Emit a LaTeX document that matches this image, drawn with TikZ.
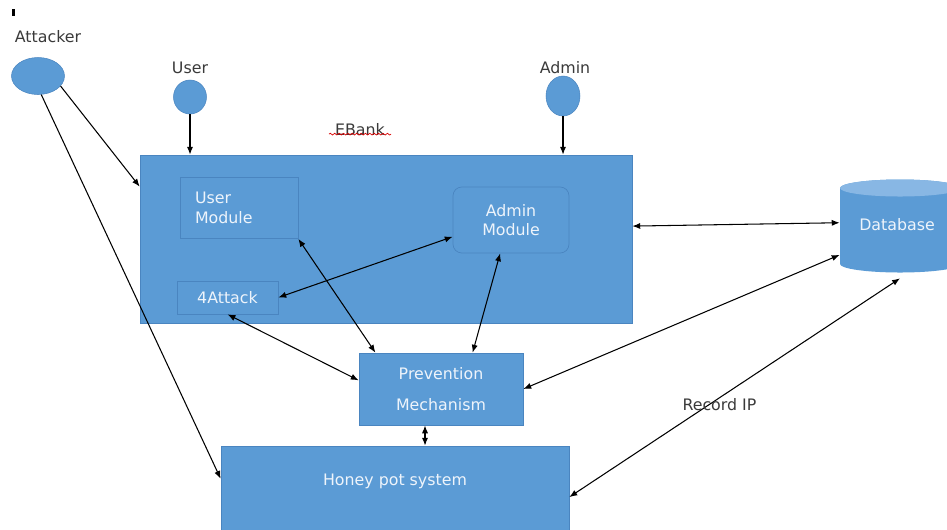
\documentclass[tikz,border=0pt]{standalone}
\usepackage{fontspec}
\setmainfont{DejaVu Sans}
\usetikzlibrary{shapes.geometric,arrows.meta,decorations.pathmorphing}
\definecolor{boxblue}{HTML}{5B9BD5}
\definecolor{edgeblue}{HTML}{4A85C0}
\definecolor{dbtop}{HTML}{88B7E4}
\definecolor{boxtext}{HTML}{EEF4FB}
\definecolor{graytext}{HTML}{3A3A3A}

\begin{document}
\begin{tikzpicture}[x=0.02cm, y=-0.02cm, font=\fontsize{9}{11}\selectfont]

        \useasboundingbox (0,0) rectangle (947,529);

        % actors
        \begin{scope}[every node/.style={ellipse, fill=boxblue, draw=edgeblue, line width=0.3pt, inner sep=0pt}]
          \node[minimum width=1.06cm, minimum height=0.74cm] (attacker) at (38,76)  {};
          \node[minimum width=0.66cm, minimum height=0.68cm] (user)     at (190,97) {};
          \node[minimum width=0.68cm, minimum height=0.80cm] (admin)    at (563,96) {};
        \end{scope}

        \begin{scope}[every node/.style={text=graytext}]
          \node (lattacker) at (48,37)  {Attacker};
          \node (luser)     at (190,68) {User};
          \node (ladmin)    at (565,68) {Admin};
          \node (lebank)    at (360,130) {EBank};
        \end{scope}
        \draw[red!85!black, line width=0.4pt, decorate,
              decoration={snake, amplitude=0.5pt, segment length=2.5pt}]
          ([yshift=1pt]lebank.base west) -- ([yshift=1pt]lebank.base east);
        \fill[black] (12,9) rectangle (15,16);

        % blocks
        \begin{scope}[every node/.style={rectangle, fill=boxblue, draw=edgeblue, line width=0.4pt, text=boxtext}]
          \node[minimum width=9.84cm, minimum height=3.36cm] (ebank) at (386,239) {};
          \node[minimum width=2.36cm, minimum height=1.12cm, text width=1.76cm,
                inner sep=0.3cm, align=left] (userm) at (239,208) {User\\Module};
          \node[minimum width=2.32cm, minimum height=1.32cm, rounded corners=5pt,
                align=center] (adminm) at (511,220) {Admin\\Module};
          \node[minimum width=2.02cm, minimum height=0.66cm] (attack) at (227.5,297.5) {4Attack};
          \node[minimum width=3.28cm, minimum height=1.44cm,
                align=center] (prev) at (441,389) {Prevention\\[6.5pt]Mechanism};
          \node[minimum width=6.96cm, minimum height=1.80cm] (honey) at (395,491) {};
        \end{scope}
        \node[text=boxtext] (lhoney) at (395,481) {Honey pot system};

        % database
        \fill[boxblue] (840,188) -- (840,264)
          arc[start angle=180, end angle=360, x radius=1.2cm, y radius=0.17cm]
          -- (960,188) arc[start angle=0, end angle=180, x radius=1.2cm, y radius=0.17cm] -- cycle;
        \fill[dbtop] (900,188) ellipse[x radius=1.2cm, y radius=0.17cm];
        \node[minimum width=2.4cm, minimum height=2cm, text=boxtext] (db) at (900,228) {};
        \node[text=boxtext] (ldb) at (897,225) {Database};

        % connections
        \begin{scope}[every path/.style={line width=0.6pt},
                      >={Latex[length=4.5pt,width=3.5pt]}]
          \path (attacker.-24)  edge[->] (ebank.168);
          \path (attacker.-80)  edge[->] (honey.176);
          \path (user.south)    edge[->] (user.south |- ebank.north);
          \path (admin.south)   edge[->] (admin.south |- ebank.north);
          \path (userm.south east) edge[<->] (prev.151);
          \path (attack.east)   edge[<->] (adminm.196);
          \path (adminm.252)    edge[<->] (prev.49);
          \path (attack.south)  edge[<->] (prev.174);
          \path (ebank.3)       edge[<->] (db.175);
          \path (prev.east)     edge[<->] (db.204);
          \path (honey.-2)      edge[<->] node[pos=0.454, yshift=-0.14cm, text=graytext] (lrecord) {Record IP} (db.south);
          \path ([xshift=-0.32cm]prev.south) edge[<->] ([xshift=-0.32cm]prev.south |- honey.north);
        \end{scope}

      \end{tikzpicture}
\end{document}
